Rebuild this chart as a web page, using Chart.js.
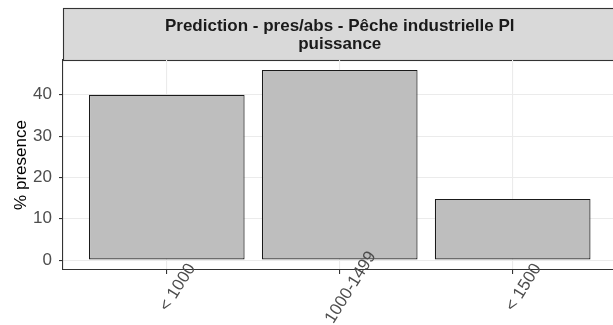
<!DOCTYPE html>
<html><head><meta charset="utf-8">
<script src="https://cdn.jsdelivr.net/npm/chart.js@4"></script>
<style>html,body{margin:0;padding:0;background:#fff}#wrap{width:613px;height:325px}</style>
</head><body><div id="wrap"><canvas id="c" width="613" height="325"></canvas></div>
<script>
const categories = ["< 1000", "1000-1499", "< 1500"];
const presence = [40, 46, 14.8];
const titleLines = ["Prediction - pres/abs - Pêche industrielle Pl", "puissance"];
const yTitle = "% presence";

const FONT = '"Liberation Sans", Arial, sans-serif';

const stripPlugin = {
  id: 'strip',
  beforeDraw(chart) {
    const ctx = chart.ctx, a = chart.chartArea;
    ctx.save();
    ctx.fillStyle = '#d9d9d9';
    ctx.fillRect(a.left, 8, chart.width - a.left + 5, a.top - 8);
    ctx.strokeStyle = '#333333';
    ctx.lineWidth = 1.1;
    ctx.strokeRect(a.left + 0.5, 8.5, chart.width, a.top - 8);
    ctx.fillStyle = '#1a1a1a';
    ctx.font = 'bold 17px ' + FONT;
    ctx.textAlign = 'center';
    ctx.textBaseline = 'middle';
    const cx = chart.scales.x.getPixelForValue(2);
    ctx.fillText(titleLines[0], cx, 26);
    ctx.fillText(titleLines[1], cx, 44);
    ctx.restore();
  }
};

new Chart(document.getElementById('c'), {
  type: 'bar',
  data: {
    datasets: [{
      data: categories.map((c, i) => ({x: i + 1, y: presence[i]})),
      backgroundColor: '#bebebe',
      borderColor: '#1a1a1a',
      borderWidth: 1.2,
      borderSkipped: false,
      barPercentage: 0.9,
      categoryPercentage: 1
    }]
  },
  options: {
    responsive: false,
    animation: false,
    layout: {padding: {top: 60, left: 0, right: 0, bottom: 0}},
    plugins: {legend: {display: false}, tooltip: {enabled: false}, title: {display: false}},
    scales: {
      x: {
        type: 'linear',
        offset: false,
        min: 0.4, max: 3.58,
        afterBuildTicks: s => { s.ticks = categories.map((c, i) => ({value: i + 1})); },
        afterFit: s => { s.height = 55; },
        afterUpdate: s => {
          s._computeLabelArea = () => undefined;
          s._getXAxisLabelAlignment = () => 'center';
        },
        grid: {offset: false, color: '#ebebeb', lineWidth: 1.1, tickColor: '#333333', tickLength: 4},
        border: {color: '#333333', width: 1.1},
        ticks: {
          z: 1,
          autoSkip: false,
          minRotation: 58, maxRotation: 58,
          labelOffset: 11,
          padding: 8,
          color: '#4d4d4d',
          font: {family: FONT, size: 17},
          callback: v => categories[v - 1]
        }
      },
      y: {
        min: -2.4, max: 48.4,
        afterFit: s => { s.width = 63; },
        grid: {
          color: c => (c.tick && c.tick.value % 10 === 0) ? '#ebebeb' : '#f5f5f5',
          lineWidth: 1.1,
          tickColor: c => (c.tick && c.tick.value % 10 === 0) ? '#333333' : 'rgba(0,0,0,0)',
          tickLength: 4
        },
        border: {color: '#333333', width: 1.1},
        title: {display: true, text: yTitle, color: '#000000', padding: {top: 11, bottom: 0},
          font: {family: FONT, size: 17}},
        ticks: {
          stepSize: 5,
          includeBounds: false,
          padding: 7,
          color: '#4d4d4d',
          font: {family: FONT, size: 17},
          callback: v => (v % 10 === 0 ? String(v) : '')
        }
      }
    }
  },
  plugins: [stripPlugin]
});
</script></body></html>
